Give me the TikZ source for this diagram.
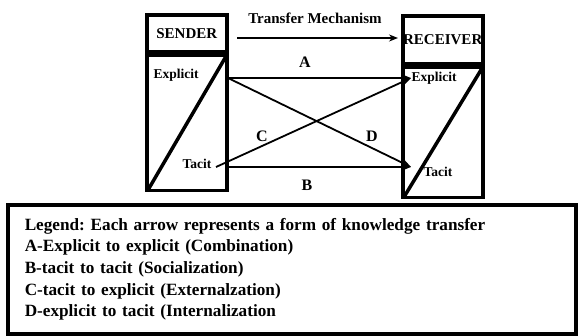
\documentclass[tikz,border=0pt]{standalone}
\usepackage{fontspec}
\setmainfont{Liberation Serif}
\usetikzlibrary{arrows.meta}
\frenchspacing
\tikzset{
  hdr/.style={draw=black, line width=3.5pt, fill=white, font=\fontsize{15}{17}\selectfont\bfseries,
    inner sep=0pt, minimum width=80pt, anchor=north west},
  body/.style={draw=black, line width=3.5pt, inner sep=0pt, minimum width=80pt, anchor=north west},
  lbl/.style={font=\fontsize{13.5}{15}\selectfont\bfseries, inner sep=1pt},
  letter/.style={font=\fontsize{16}{18}\selectfont\bfseries, inner sep=1pt},
  xfer/.style={-{Stealth[length=9pt,width=7pt]}, line width=1.8pt},
  dg/.style={line width=3.5pt},
  legendbox/.style={draw=black, line width=3.5pt, anchor=north west, minimum width=568pt,
    minimum height=129pt, inner xsep=17pt, inner ysep=0pt, text width=534pt, align=left,
    font=\fontsize{17.2}{21.6}\selectfont\bfseries},
}
\begin{document}
\begin{tikzpicture}[x=1pt, y=-1pt]
  \useasboundingbox (0,0) rectangle (586,335);

  % sender and receiver boxes
  \node[hdr, minimum height=37pt] (sendhd) at (145,13) {SENDER};
  \node[body, minimum height=135pt] (sendbd) at (sendhd.south west) {};
  \node[hdr, minimum height=48pt] (recvhd) at (401,14) {RECEIVER};
  \node[body, minimum height=130pt] (recvbd) at (recvhd.south west) {};
  \draw[dg] ([shift={(3pt,2pt)}]sendbd.south west) -- ([shift={(-2pt,-2pt)}]sendbd.north east);
  \draw[dg] ([shift={(3pt,2pt)}]recvbd.south west) -- ([shift={(-2pt,-2pt)}]recvbd.north east);

  \node[lbl] (sexp) at (176,75) {Explicit};
  \node[lbl] (stac) at (197,164) {Tacit};
  \node[lbl] (rexp) at (434,78) {Explicit};
  \node[lbl] (rtac) at (438,172) {Tacit};

  \coordinate (sa) at (228,78);
  \coordinate (sb) at (228,167);
  \coordinate (sc) at (216,167);
  \coordinate (ra) at (411,78);
  \coordinate (rb) at (411,167);

  % transfer arrows
  \node[lbl, font=\fontsize{15}{17}\selectfont\bfseries] (mech) at (315,18) {Transfer Mechanism};
  \coordinate (ms) at (237,38);
  \coordinate (me) at (398,38);
  \draw[xfer] (ms) -- (me);
  \draw[xfer] (sa) -- (ra);
  \draw[xfer] (sa) -- (rb);
  \draw[xfer] (sb) -- (rb);
  \draw[xfer] (sc) -- (ra);

  \node[letter] (la) at (305,62) {A};
  \node[letter] (lb) at (307,185) {B};
  \node[letter] (lc) at (262,136) {C};
  \node[letter] (ld) at (372,136) {D};

  \node[legendbox] (legend) at (6,203) {Legend: Each arrow represents a form of knowledge transfer\\
    A-Explicit to explicit (Combination)\\
    B-tacit to tacit (Socialization)\\
    C-tacit to explicit (Externalzation)\\
    D-explicit to tacit (Internalization};
\end{tikzpicture}
\end{document}
